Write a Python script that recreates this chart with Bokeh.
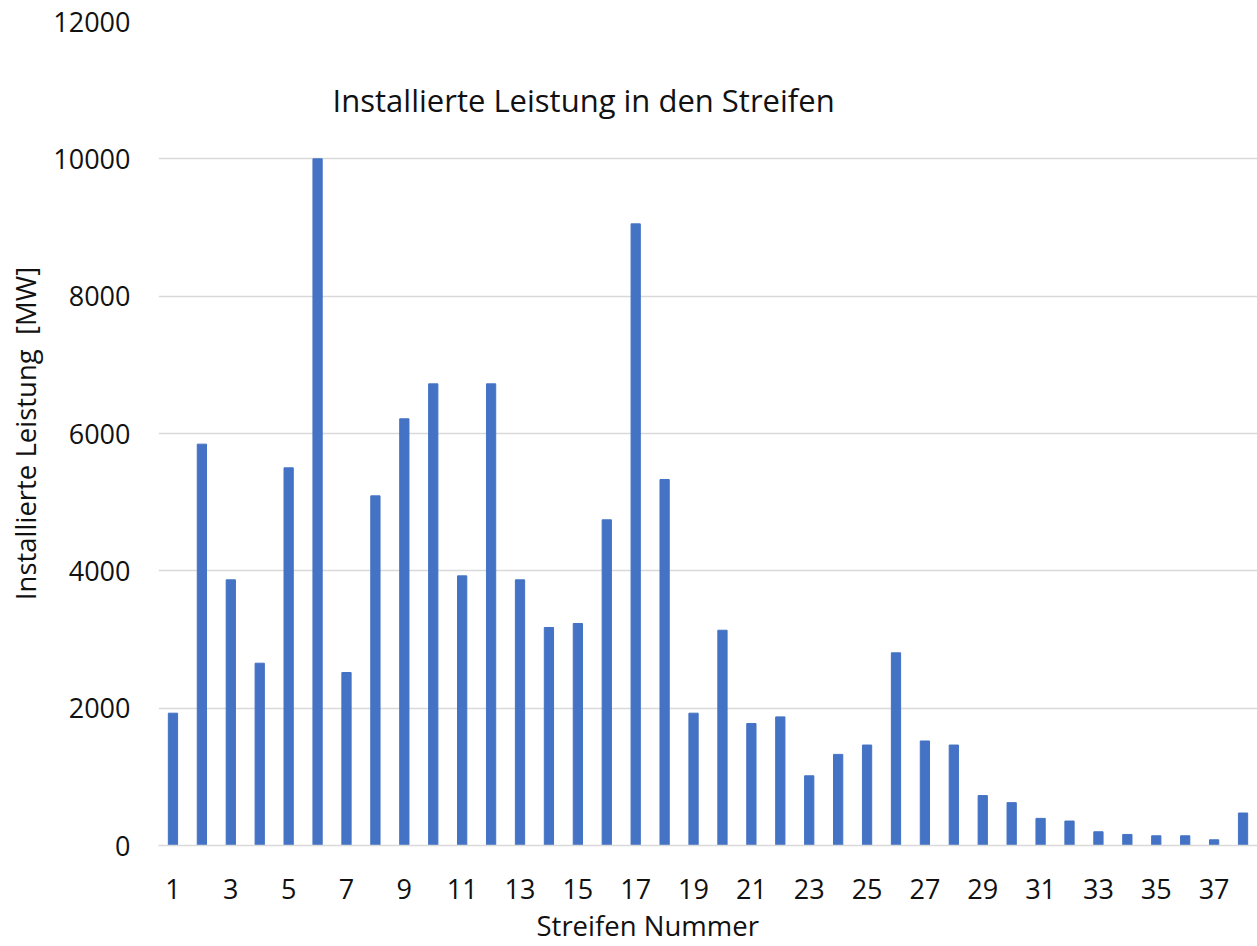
from bokeh.plotting import figure
from bokeh.models import Range1d, FixedTicker, Label, Title, ColumnDataSource
from bokeh.embed import file_html
from bokeh.resources import INLINE

# ---- data ----
streifen = [1, 2, 3, 4, 5, 6, 7, 8, 9, 10, 11, 12, 13, 14, 15, 16, 17, 18, 19,
            20, 21, 22, 23, 24, 25, 26, 27, 28, 29, 30, 31, 32, 33, 34, 35, 36, 37, 38]
leistung_mw = [1927, 5845, 3869, 2655, 5500, 10000, 2519, 5092, 6214, 6723,
               3927, 6723, 3869, 3175, 3233, 4743, 9053, 5330, 1927, 3135,
               1776, 1873, 1015, 1327, 1463, 2806, 1522, 1463, 727, 624,
               395, 356, 200, 161, 141, 141, 83, 473]
x_tick_values = [1, 3, 5, 7, 9, 11, 13, 15, 17, 19, 21, 23, 25, 27, 29, 31, 33, 35, 37]
y_tick_values = [0, 2000, 4000, 6000, 8000, 10000, 12000]

title_text = "Installierte Leistung in den Streifen"
x_label = "Streifen Nummer"
y_label = "Installierte Leistung \u00a0[MW]"

FONT = "Open Sans"
TEXT_COLOR = "#111111"
BAR_COLOR = "#4472C4"
GRID_COLOR = "#d9d9d9"

src = ColumnDataSource(dict(x=streifen, top=leistung_mw))

p = figure(width=1257, height=946, output_backend="svg", toolbar_location=None,
           x_range=Range1d(0.5, 38.5), y_range=Range1d(0, 12000),
           min_border_left=158, min_border_right=0, min_border_top=21,
           min_border_bottom=101)

p.vbar(x="x", top="top", width=0.32, color=BAR_COLOR, source=src)

p.outline_line_color = None
p.background_fill_color = "white"
p.border_fill_color = "white"

# grid
p.xgrid.visible = False
p.ygrid.grid_line_color = GRID_COLOR
p.ygrid.grid_line_width = 1.3
p.ygrid.ticker = FixedTicker(ticks=y_tick_values)

# x axis
xa = p.xaxis[0]
xa.ticker = FixedTicker(ticks=x_tick_values)
xa.major_tick_in = 0
xa.major_tick_out = 0
xa.minor_tick_in = 0
xa.minor_tick_out = 0
xa.axis_line_color = GRID_COLOR
xa.axis_line_width = 1.3
xa.major_label_text_font = FONT
xa.major_label_text_font_size = "27px"
xa.major_label_text_color = TEXT_COLOR
xa.major_label_standoff = 33

# x axis label as a title below the axis (offset to match the reference)
xt = Title(text=x_label, align="left", offset=378, standoff=6,
           text_font=FONT, text_font_size="27.5px", text_font_style="normal",
           text_color=TEXT_COLOR)
p.add_layout(xt, "below")

# y axis
ya = p.yaxis[0]
ya.ticker = FixedTicker(ticks=y_tick_values)
ya.major_tick_in = 0
ya.major_tick_out = 0
ya.minor_tick_in = 0
ya.minor_tick_out = 0
ya.axis_line_color = None
ya.major_label_text_font = FONT
ya.major_label_text_font_size = "27px"
ya.major_label_text_color = TEXT_COLOR
ya.major_label_standoff = 28
ya.axis_label = y_label
ya.axis_label_text_font = FONT
ya.axis_label_text_font_size = "27.5px"
ya.axis_label_text_font_style = "normal"
ya.axis_label_text_color = TEXT_COLOR
ya.axis_label_standoff = 6

title = Label(x=15.2, y=10850, text=title_text, text_font=FONT,
              text_font_size="31px", text_color=TEXT_COLOR,
              text_align="center", text_baseline="middle")
p.add_layout(title)

open("out.html", "w").write(file_html(p, INLINE))
